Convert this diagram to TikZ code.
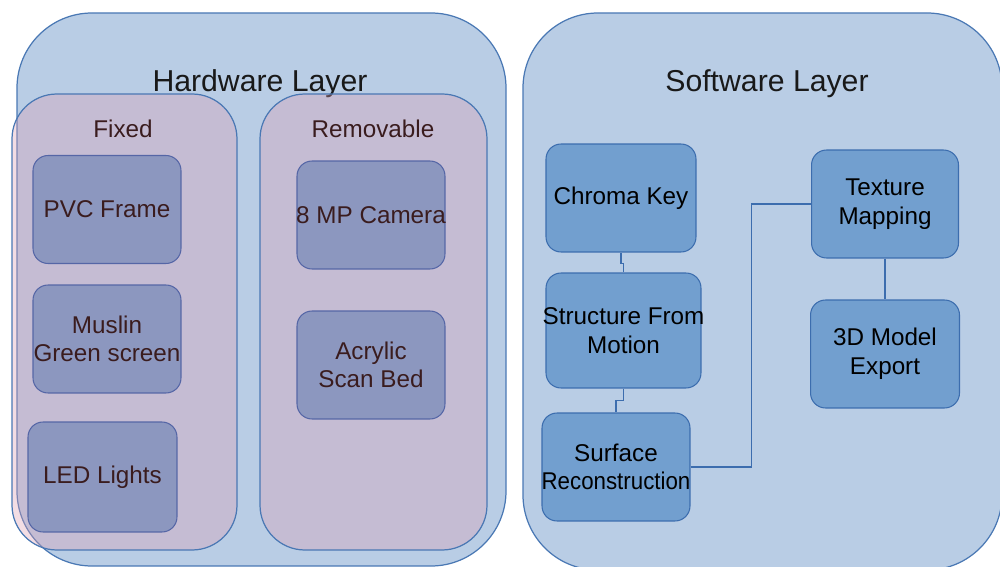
\documentclass[tikz,border=0pt]{standalone}
\usepackage{fontspec}
\usepackage{graphicx}
\setmainfont{Liberation Sans}

\definecolor{layerfill}{RGB}{185,205,229}
\definecolor{layerline}{RGB}{74,120,180}
\definecolor{panelfill}{RGB}{222,159,178}
\definecolor{hwfill}{RGB}{140,151,191}
\definecolor{hwline}{RGB}{85,102,166}
\definecolor{hwtext}{RGB}{58,28,30}
\definecolor{swfill}{RGB}{114,159,207}
\definecolor{swline}{RGB}{60,109,174}

\newcommand\blockfont{\fontsize{13.8}{16.3}\selectfont}
\newcommand\layerfont{\fontsize{17.2}{20}\selectfont}

\begin{document}
\begin{tikzpicture}[x=0.02cm,y=-0.02cm,
    layer/.style={draw=layerline,fill=layerfill,line width=0.7pt,rounded corners=1.5cm},
    panel/.style={draw=layerline,fill=panelfill,fill opacity=0.35,line width=0.7pt,rounded corners=0.9cm},
    hwbox/.style={draw=hwline,fill=hwfill,text=hwtext,line width=0.6pt,rounded corners=0.3cm,
      minimum width=2.96cm,minimum height=2.16cm,inner sep=0pt,inner xsep=-6pt,align=center,font=\blockfont},
    swbox/.style={draw=swline,fill=swfill,text=black,line width=0.6pt,rounded corners=0.3cm,
      minimum width=2.96cm,minimum height=2.16cm,inner sep=0pt,inner xsep=-6pt,align=center,font=\blockfont},
    link/.style={draw=swline,line width=0.6pt}]

  \useasboundingbox (0,0) rectangle (1000,567);
  \clip (0,0) rectangle (1000,567);

% Layers
  \draw[layer] (17,13) rectangle (506,566);
  \draw[layer] (523,13) rectangle (1002,570);
  \node[anchor=base,font=\layerfont,text=black!90] (hwtitle) at (260,92) {Hardware Layer};
  \node[anchor=base,font=\layerfont,text=black!90] (swtitle) at (767,92) {Software Layer};

% Hardware groups
  \draw[panel] (12,94) rectangle (237,550);
  \draw[panel] (260,94) rectangle (487,550);
  \node[anchor=base,font=\blockfont,text=hwtext] (fixed) at (123,138) {Fixed};
  \node[anchor=base,font=\blockfont,text=hwtext] (removable) at (373,138) {Removable};

  \node[hwbox] (pvc) at (107,209.5) {PVC Frame};
  \node[hwbox] (muslin) at (107,339) {Muslin\\Green screen};
  \node[hwbox,minimum width=2.98cm,minimum height=2.2cm] (led) at (102.5,477) {LED Lights};
  \node[hwbox] (camera) at (371,215) {8 MP Camera};
  \node[hwbox] (bed) at (371,365) {Acrylic\\Scan Bed};

% Software pipeline
  \node[swbox,minimum width=3cm] (chroma) at (621,198) {Chroma Key};
  \node[swbox,minimum width=3.1cm,minimum height=2.3cm] (sfm) at (623.5,330.5) {Structure From\\Motion};
  \node[swbox] (surf) at (616,467) {Surface\\\scalebox{0.92}[1]{Reconstruction}};
  \node[swbox,minimum width=2.94cm] (tex) at (885,204) {Texture\\Mapping};
  \node[swbox,minimum width=2.98cm] (model) at (885,354) {3D Model\\Export};

  \draw[link] (chroma.south) -- ++(0,11) -| (sfm.north);
  \draw[link] (sfm.south) -- ++(0,12) -| (surf.north);
  \draw[link] (surf.east) -- ++(61,0) |- (tex.west);
  \draw[link] (tex.south) -- (model.north);

\end{tikzpicture}
\end{document}
